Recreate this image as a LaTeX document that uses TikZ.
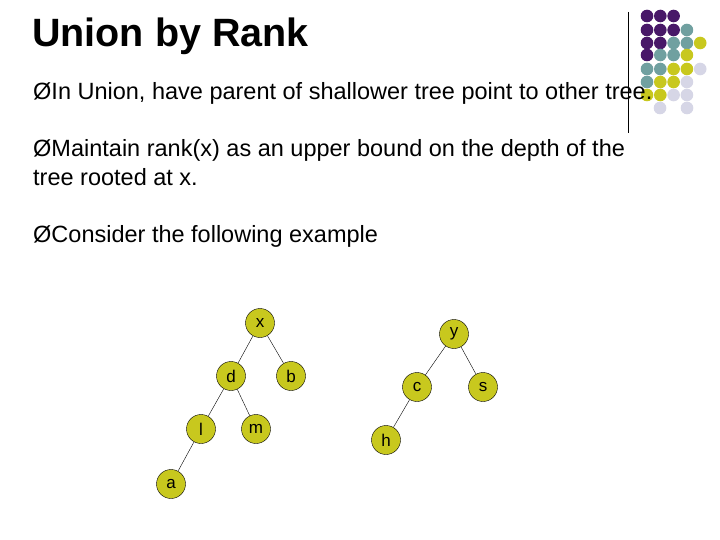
\documentclass[tikz,border=0pt]{standalone}
\usepackage{fontspec}
\setmainfont{Liberation Sans}
\begin{document}
\begin{tikzpicture}[x=1pt,y=-1pt,
 tn/.style={circle,draw=black,minimum size=29pt,inner sep=0pt,font=\fontsize{17}{17}\selectfont},
 body/.style={anchor=base west,inner sep=0pt,font=\fontsize{23.5}{28}\selectfont},
]
\definecolor{cP}{RGB}{72,24,104}\definecolor{cT}{RGB}{112,160,160}\definecolor{cY}{RGB}{200,200,30}\definecolor{cL}{RGB}{214,214,230}
\tikzset{tn/.append style={fill=cY}}
\useasboundingbox (0,0) rectangle (720,540);
\fill[white] (0,0) rectangle (720,540);
\draw (628,12) -- (628,133);
\foreach \r/\cols in {16/{P,P,P},30/{P,P,P,T},43/{P,P,T,T,Y},55/{P,T,T,Y},69/{T,T,Y,Y,L},82/{T,Y,Y,L},95/{Y,Y,L,L}}{
 \foreach \c [count=\i from 0] in \cols { \fill[c\c] (647+13.3*\i,\r) circle (6.3); } }
\fill[cL] (660,108) circle (6.3); \fill[cL] (687,108) circle (6.3);
\node[anchor=base west,inner sep=0pt,font=\fontsize{39.5}{40}\bfseries] (title) at (32,47) {Union by Rank};
\node[body] (l1) at (33,100) {ØIn Union, have parent of shallower tree point to other tree.};
\node[body] (l2) at (33,157) {ØMaintain rank(x) as an upper bound on the depth of the};
\node[body] (l2b) at (33,186) {tree rooted at x.};
\node[body] (l3) at (33,243) {ØConsider the following example};
\node[tn] (x) at (260,323) {x};
\node[tn] (d) at (231,376) {d};
\node[tn] (b) at (291,376) {b};
\node[tn] (l) at (201,429) {l};
\node[tn] (m) at (256,429) {m};
\node[tn] (a) at (171,484) {a};
\node[tn] (y) at (454,334) {y};
\node[tn] (c) at (417,387) {c};
\node[tn] (s) at (483,387) {s};
\node[tn] (h) at (386,440) {h};
\draw (x)--(d) (x)--(b) (d)--(l) (d)--(m) (l)--(a) (y)--(c) (y)--(s) (c)--(h);
\end{tikzpicture}
\end{document}
